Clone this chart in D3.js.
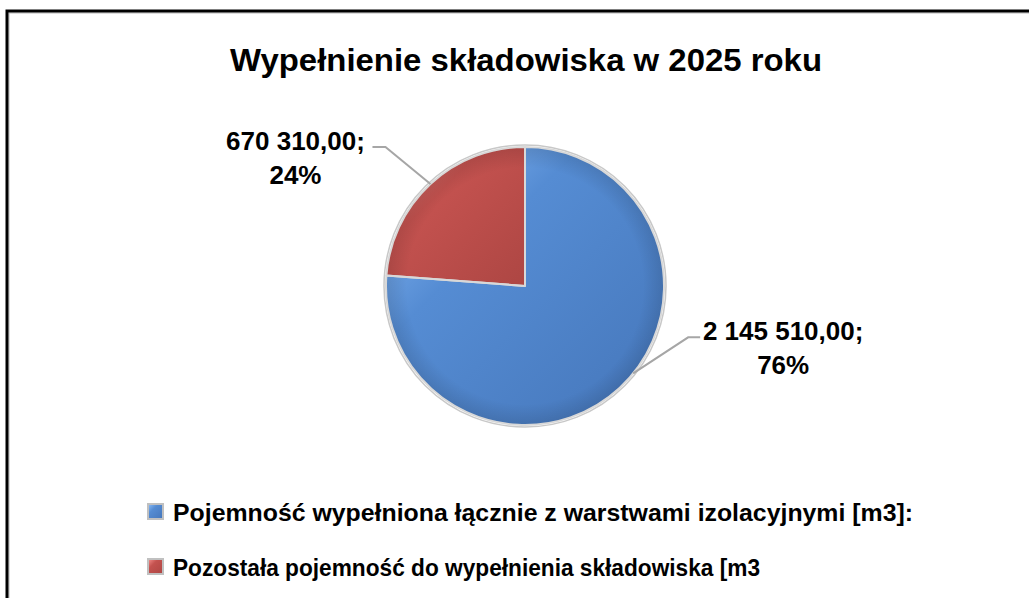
<!DOCTYPE html>
<meta charset="utf-8">
<style>
body { margin: 0; background: #fff; }
text { font-family: "Liberation Sans", Arial, sans-serif; font-weight: bold; fill: #000; }
.leader { fill: none; stroke: #a6a6a6; stroke-width: 2px; }
</style>
<body>
<script src="https://cdn.jsdelivr.net/npm/d3@7"></script>
<script>
var width = 1029,
    height = 598;

// data
var title = "Wypełnienie składowiska w 2025 roku";
var categories = [
  "Pojemność wypełniona łącznie z warstwami izolacyjnymi [m3]:",
  "Pozostała pojemność do wypełnienia składowiska [m3"
];
var values = [2145510, 670310];
var colors = ["#558cd3", "#c4524f"];
var lightColors = ["#8fc0fa", "#f6928f"];
var darkColors = ["#4576ba", "#ad4643"];

var pl = d3.formatLocale({decimal: ",", thousands: "\u00a0", grouping: [3], currency: ["", " zł"]});
var fmtValue = pl.format(",.2f"),
    fmtPct = d3.format(".0%");

var cx = 525, cy = 286, radius = 139;

var svg = d3.select("body").append("svg")
    .attr("width", width)
    .attr("height", height);

var defs = svg.append("defs");

colors.forEach(function(c, i) {
  var g = defs.append("linearGradient")
      .attr("id", "grad" + i)
      .attr("x1", 0).attr("y1", 0).attr("x2", 1).attr("y2", 1);
  g.append("stop").attr("offset", "0%").attr("stop-color", lightColors[i]);
  g.append("stop").attr("offset", "35%").attr("stop-color", c);
  g.append("stop").attr("offset", "100%").attr("stop-color", darkColors[i]);
});

var rim = defs.append("radialGradient").attr("id", "rim");
rim.append("stop").attr("offset", "85%").attr("stop-color", "#000").attr("stop-opacity", 0);
rim.append("stop").attr("offset", "100%").attr("stop-color", "#000").attr("stop-opacity", 0.12);

// chart frame (cut off at right and bottom)
svg.append("rect")
    .attr("x", 9).attr("y", 13)
    .attr("width", width + 20).attr("height", height + 20)
    .attr("fill", "none").attr("stroke", "#b8b8b8").attr("stroke-width", 1);
svg.append("rect")
    .attr("x", 7).attr("y", 11)
    .attr("width", width + 20).attr("height", height + 20)
    .attr("fill", "none").attr("stroke", "#000").attr("stroke-width", 3);

svg.append("text")
    .attr("x", 526).attr("y", 71)
    .attr("text-anchor", "middle")
    .attr("font-size", 32)
    .attr("textLength", 592)
    .attr("lengthAdjust", "spacingAndGlyphs")
    .text(title);

var total = d3.sum(values);
var pie = d3.pie().sort(null).value(function(d) { return d; });
var arcs = pie(values);
var arc = d3.arc().innerRadius(0).outerRadius(radius);

var chart = svg.append("g").attr("transform", "translate(" + cx + "," + cy + ")");

chart.append("circle")
    .attr("r", radius + 2)
    .attr("fill", "#fff")
    .attr("stroke", "#c8c8c8")
    .attr("stroke-width", 1.5);

chart.selectAll("path.slice")
    .data(arcs)
  .enter().append("path")
    .attr("class", "slice")
    .attr("d", arc)
    .attr("fill", function(d, i) { return "url(#grad" + i + ")"; });

chart.append("circle")
    .attr("r", radius)
    .attr("fill", "url(#rim)");

chart.selectAll("path.edge")
    .data(arcs)
  .enter().append("path")
    .attr("class", "edge")
    .attr("d", arc)
    .attr("fill", "none")
    .attr("stroke", "#d8d8d8")
    .attr("stroke-width", 2)
    .attr("stroke-linejoin", "round");

// data labels with leader lines
var labelLayout = [
  {angle: 2.25, elbow: [55, -36], run: 12, textDx: 83},
  {angle: null, elbow: [-45, -37], run: -13, textDx: -77}
];

arcs.forEach(function(d, i) {
  var lay = labelLayout[i],
      a = lay.angle != null ? lay.angle : (d.startAngle + d.endAngle) / 2,
      p0 = [Math.sin(a) * radius, -Math.cos(a) * radius],
      p1 = [p0[0] + lay.elbow[0], p0[1] + lay.elbow[1]],
      p2 = [p1[0] + lay.run, p1[1]];

  chart.append("path")
      .attr("class", "leader")
      .attr("d", d3.line()([p0, p1, p2]));

  var t = chart.append("text")
      .attr("text-anchor", "middle")
      .attr("font-size", 26);
  t.append("tspan")
      .attr("x", p2[0] + lay.textDx)
      .attr("y", p1[1] + 3)
      .text(fmtValue(d.data) + ";");
  t.append("tspan")
      .attr("x", p2[0] + lay.textDx)
      .attr("y", p1[1] + 37)
      .text(fmtPct(d.data / total));
});

// legend
var legend = svg.selectAll("g.legend")
    .data(categories)
  .enter().append("g")
    .attr("class", "legend")
    .attr("transform", function(d, i) { return "translate(148," + (504 + i * 55) + ")"; });

legend.append("rect")
    .attr("width", 15).attr("height", 15)
    .attr("fill", function(d, i) { return "url(#grad" + i + ")"; })
    .attr("stroke", "#c0c0c0")
    .attr("stroke-width", 2);

legend.append("text")
    .attr("x", 25).attr("y", 17)
    .attr("font-size", 24)
    .attr("textLength", function(d, i) { return i ? 587 : 740; })
    .attr("lengthAdjust", "spacingAndGlyphs")
    .text(function(d) { return d; });
</script>
</body>
